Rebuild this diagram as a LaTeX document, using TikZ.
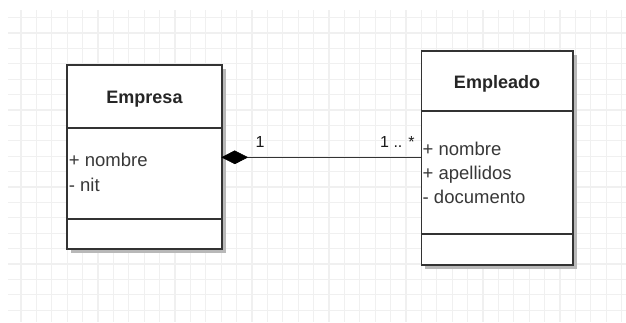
\documentclass[tikz,border=0pt]{standalone}
\usepackage{fontspec}
\setmainfont{Liberation Sans}
\begin{document}
\begin{tikzpicture}[x=1pt,y=-1pt,
  gridline/.style={draw=black!6, line width=1.1pt},
  shadowbox/.style={fill=black!28, draw=none},
  classbox/.style={draw=black!80, line width=1.3pt, fill=white, inner sep=0pt, outer sep=0pt, anchor=north west},
  divider/.style={draw=black!80, line width=1.1pt},
  title/.style={font=\fontsize{18}{22}\selectfont\bfseries, text=black!85, anchor=base, inner sep=0pt},
  attr/.style={font=\fontsize{18.5}{22}\selectfont, text=black!78, anchor=base west, inner sep=0pt},
  mult/.style={font=\fontsize{16}{19}\selectfont, text=black!90, anchor=base west, inner sep=0pt},
  link/.style={draw=black!80, line width=1.2pt},
  compdiamond/.style={fill=black, draw=black, line width=0.6pt, line join=miter}
]
\useasboundingbox (0,0) rectangle (626,322);
\fill[white] (0,0) rectangle (626,322);

% background grid
\foreach \i in {0,...,39} \draw[gridline] (21+15.4*\i,10) -- (21+15.4*\i,322);
\foreach \j in {0,...,19} \draw[gridline] (8,17.6+15.4*\j) -- (626,17.6+15.4*\j);

% class Empresa
\fill[shadowbox] (70.5,68.5) rectangle (225.5,252.5);
\node[classbox, minimum width=155pt, minimum height=184pt] (empresa) at (67,65) {};
\draw[divider] (empresa.west |- 0,128) -- (empresa.east |- 0,128);
\draw[divider] (empresa.west |- 0,219) -- (empresa.east |- 0,219);
\node[title] (empresaname) at (144.5,103.5) {Empresa};
\node[attr] (empresaa1) at (68.7,166.5) {+ nombre};
\node[attr] (empresaa2) at (68.7,191) {- nit};

% class Empleado
\fill[shadowbox] (425,54.5) rectangle (576.5,268.5);
\node[classbox, minimum width=151.5pt, minimum height=214pt] (empleado) at (421.5,51) {};
\draw[divider] (empleado.west |- 0,111) -- (empleado.east |- 0,111);
\draw[divider] (empleado.west |- 0,234) -- (empleado.east |- 0,234);
\node[title] (empleadoname) at (497,88) {Empleado};
\node[attr] (empleadoa1) at (422.5,155) {+ nombre};
\node[attr] (empleadoa2) at (422.5,179.3) {+ apellidos};
\node[attr] (empleadoa3) at (422.5,203.6) {- documento};

% composition: filled diamond at the whole end, line to the part
\coordinate (dtip) at (empresa.east |- 0,157.3);
\coordinate (dend) at (247.5,157.3);
\draw[link] (dend) -- (empleado.west |- dend);
\filldraw[compdiamond] (dtip) -- ++(12.7,-6.5) -- (dend) -- ++(-12.7,6.5) -- cycle;
\node[mult] (multa) at (255.5,147) {1};
\node[mult] (multb) at (380,147) {1 .. *};
\end{tikzpicture}
\end{document}
